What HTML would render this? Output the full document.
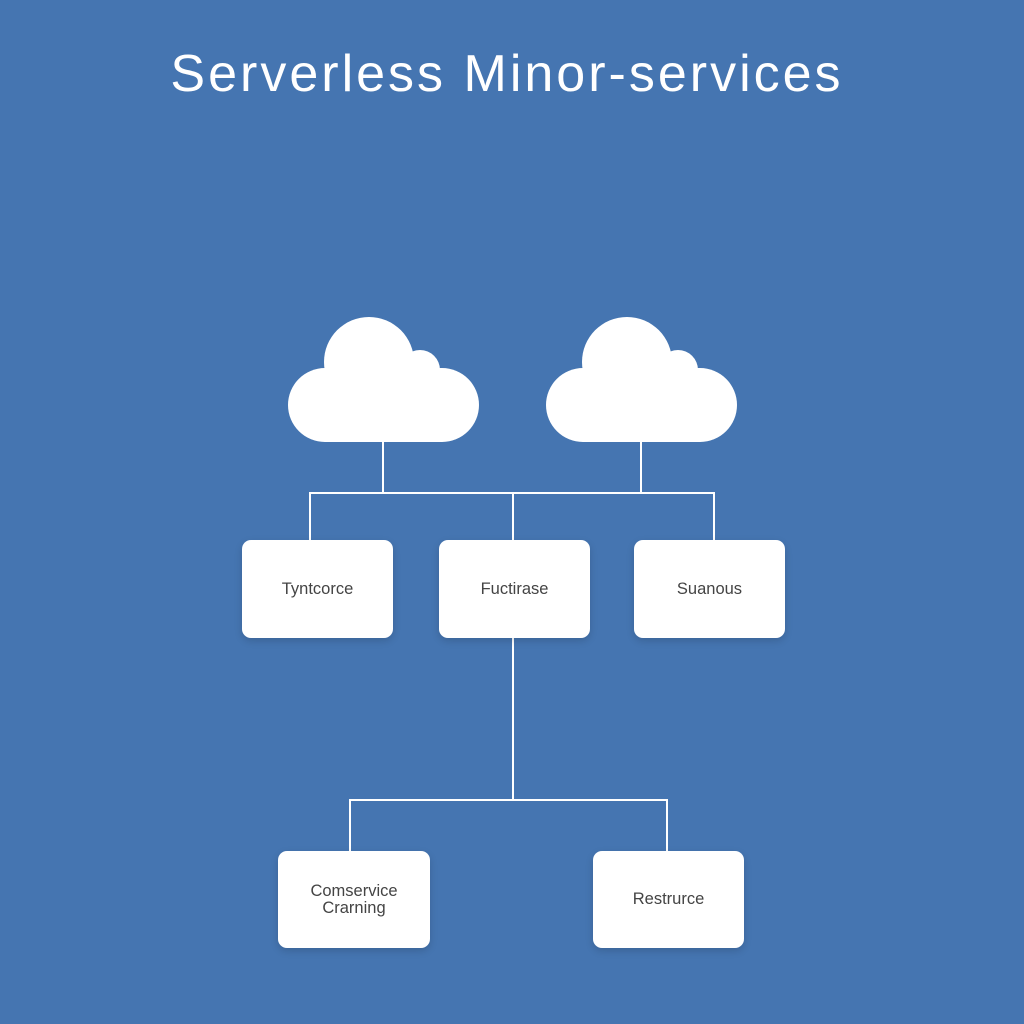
<!DOCTYPE html>
<html><head><style>
html,body{margin:0;padding:0;}
body{width:1024px;height:1024px;background:#4575b1;position:relative;overflow:hidden;font-family:"Liberation Sans",sans-serif;}
.t{position:absolute;left:0;width:1014px;top:44px;text-align:center;color:#fff;font-size:52px;letter-spacing:3px;}
.b{position:absolute;background:#fff;border-radius:9px;box-shadow:0 3px 8px rgba(0,0,0,0.15);display:flex;align-items:center;justify-content:center;text-align:center;color:#444;font-size:16.5px;line-height:17px;}
</style></head><body>
<div class="t">Serverless Minor-services</div>
<svg width="1024" height="1024" style="position:absolute;left:0;top:0">
<g fill="#fff">
<circle cx="369" cy="362" r="45"/><circle cx="420" cy="370" r="20"/><rect x="288" y="368" width="191" height="74" rx="37"/>
<circle cx="627" cy="362" r="45"/><circle cx="678" cy="370" r="20"/><rect x="546" y="368" width="191" height="74" rx="37"/>
</g>
<g stroke="#fff" stroke-width="2" fill="none">
<path d="M383 442V493M641 442V493M310 540V493H714V540M513 493V540M513 638V800M350 851V800H667V851"/>
</g>
</svg>
<div class="b" style="left:242px;top:540px;width:151px;height:98px">Tyntcorce</div>
<div class="b" style="left:439px;top:540px;width:151px;height:98px">Fuctirase</div>
<div class="b" style="left:634px;top:540px;width:151px;height:98px">Suanous</div>
<div class="b" style="left:278px;top:851px;width:152px;height:97px">Comservice<br>Crarning</div>
<div class="b" style="left:593px;top:851px;width:151px;height:97px">Restrurce</div>
</body></html>
